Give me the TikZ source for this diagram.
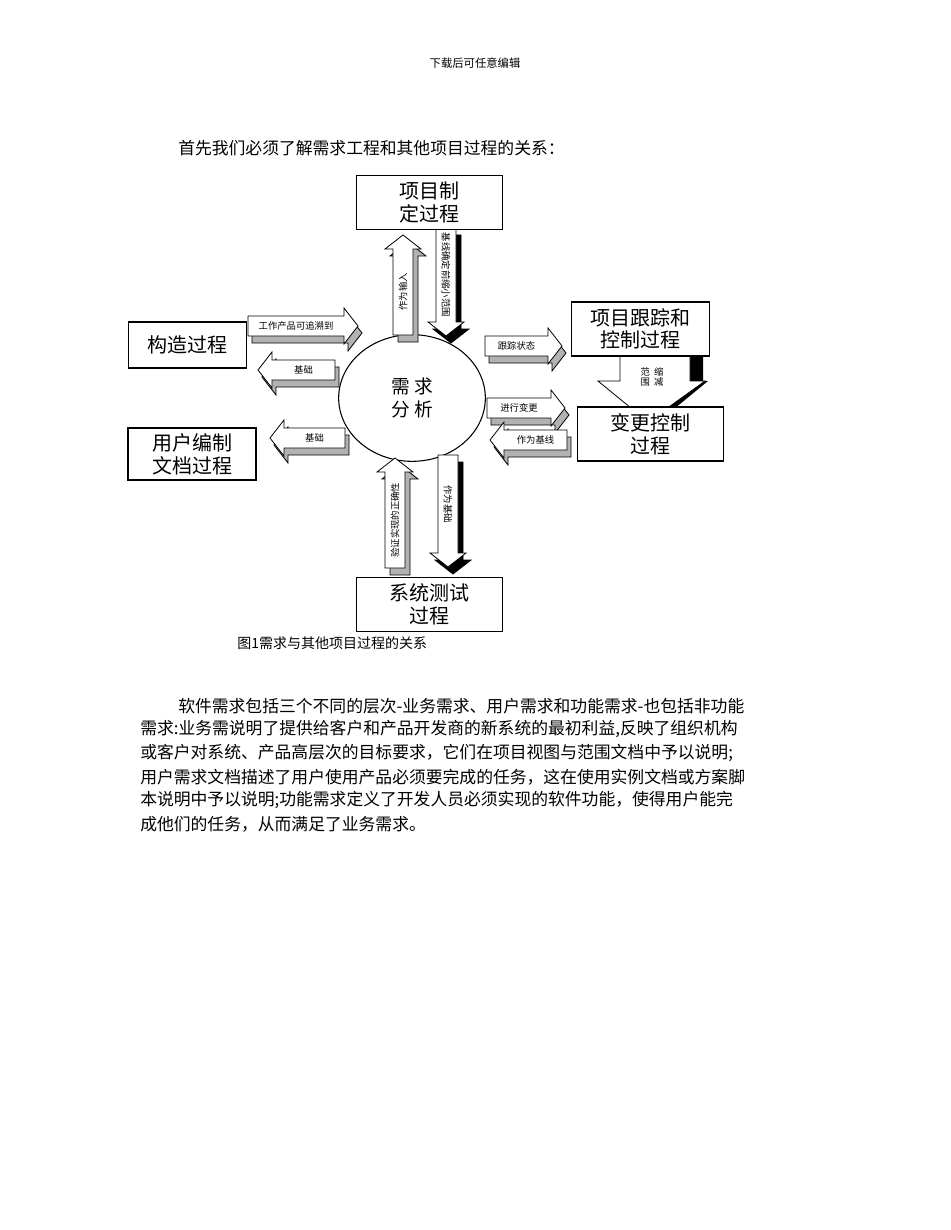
\documentclass[tikz,border=0pt]{standalone}
\usepackage{fontspec}
\setmainfont{Noto Sans CJK SC}
\usetikzlibrary{calc,shapes.geometric}
\tikzset{
 box/.style={draw,thick,fill=white,align=center,inner sep=0pt,font=\fontsize{15}{17}\selectfont},
 lbl/.style={font=\fontsize{7}{8}\selectfont,inner sep=0pt},
 body/.style={anchor=west,inner sep=0pt,font=\fontsize{12.6}{14}\selectfont},
 arr/.style={draw,fill=white,line width=0.6pt},
 shd/.style={draw,fill=gray!60,line width=0.6pt},
}
\newcommand\ArrShape[1]{(0,-10) -- (#1-14,-10) -- (#1-14,-18) -- (#1,0) -- (#1-14,18) -- (#1-14,10) -- (0,10) -- cycle}
\newcommand\Harr[6]{%
 \begin{scope}[shift={(#1,#2)},xscale=#4]
  \path[shd] [shift={(4*#4,7)}] \ArrShape{#3};
  \path[arr] \ArrShape{#3};
 \end{scope}
 \node[lbl] (#5) at ($(#1,#2)+(#4*#3/2-#4*7,0)$) {#6};}
\newcommand\Varr[7]{%
 \begin{scope}[shift={(#1,#2)},rotate=-90,xscale=#4]
  \path[shd,fill=#7] [shift={(7*#4,-5)}] \ArrShape{#3};
  \path[arr] \ArrShape{#3};
 \end{scope}
 \node[lbl,rotate=-90*#4] (#5) at ($(#1,#2)+(0,#4*#3/2-#4*7)$) {#6};}
\begin{document}
\begin{tikzpicture}[x=0.75pt,y=-0.75pt]
\useasboundingbox[fill=white] (0,0) rectangle (950,1230);
\node[font=\fontsize{8.5}{10}\selectfont] (hdr) at (475,63) {下载后可任意编辑};
\node[body] (t0) at (178,148) {首先我们必须了解需求工程和其他项目过程的关系：};

\node[draw,thick,ellipse,minimum width=110pt,minimum height=95pt,inner sep=0pt,align=center,font=\fontsize{14}{17}\selectfont] (ra) at (412,398) {需 求\\分 析};

\Varr{403}{335}{100}{-1}{a1}{作为输入}{gray!60}
\Varr{446}{228}{108}{1}{a2}{基线确定前缩小范围}{black}
\Harr{248}{326}{110}{1}{a3}{工作产品可追溯到}
\Harr{335}{370}{77}{-1}{a4}{基础}
\Harr{345}{438}{75}{-1}{a5}{基础}
\Harr{485}{346}{77}{1}{a6}{跟踪状态}
\Harr{487}{408}{78}{1}{a7}{进行变更}
\Harr{567}{440}{77}{-1}{a8}{作为基线}
\Varr{395}{568}{110}{-1}{a9}{验证实现的正确性}{gray!60}
\Varr{448}{455}{112}{1}{a10}{作为基础}{black}
\fill[black] (690,356) -- (703,356) -- (703,381) -- (708,381) -- (652,427) -- (640,420) -- cycle;
\path[arr] (620,356) -- (690,356) -- (690,381) -- (705,381) -- (648,422) -- (598,381) -- (620,381) -- cycle;
\node[lbl,align=center] (a11) at (652,377) {范\ \ 缩\\围\ \ 减};

\node[box,minimum width=110pt,minimum height=40pt] (b1) at (429.5,202.5) {项目制\\定过程};
\node[box,minimum width=104pt,minimum height=40.5pt] (b2) at (640.5,329) {项目跟踪和\\控制过程};
\node[box,minimum width=110pt,minimum height=40.5pt] (b3) at (650.5,434) {变更控制\\过程};
\node[box,minimum width=89pt,minimum height=34.5pt] (b4) at (187.5,345) {构造过程};
\node[box,minimum width=96pt,minimum height=39pt] (b5) at (192,454) {用户编制\\文档过程};
\node[box,minimum width=110pt,minimum height=40pt] (b6) at (429.5,604.5) {系统测试\\过程};
\node[font=\fontsize{10.5}{12}\selectfont,anchor=west,inner sep=0pt] (cap) at (237,643) {图1需求与其他项目过程的关系};

\node[body] (l1) at (178,706) {软件需求包括三个不同的层次-业务需求、用户需求和功能需求-也包括非功能};
\node[body] (l2) at (140,729) {需求:业务需说明了提供给客户和产品开发商的新系统的最初利益,反映了组织机构};
\node[body] (l3) at (140,753) {或客户对系统、产品高层次的目标要求，它们在项目视图与范围文档中予以说明;};
\node[body] (l4) at (140,777) {用户需求文档描述了用户使用产品必须要完成的任务，这在使用实例文档或方案脚};
\node[body] (l5) at (140,800) {本说明中予以说明;功能需求定义了开发人员必须实现的软件功能，使得用户能完};
\node[body] (l6) at (140,824) {成他们的任务，从而满足了业务需求。};
\end{tikzpicture}
\end{document}
